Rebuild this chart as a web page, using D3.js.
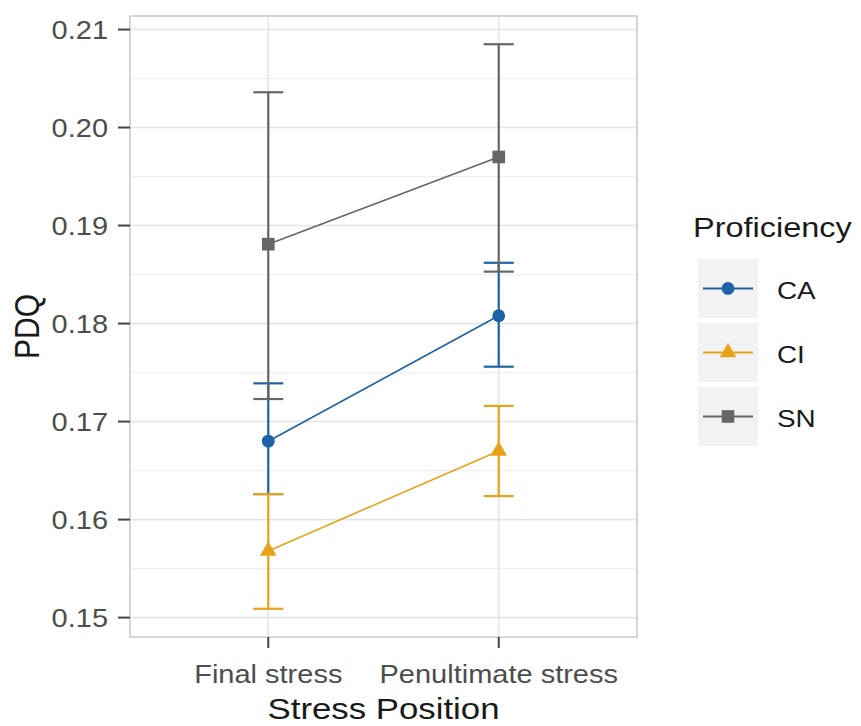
<!DOCTYPE html>
<html>
<head>
<meta charset="utf-8">
<script src="https://cdn.jsdelivr.net/npm/d3@7"></script>
<style>
  html, body { margin: 0; padding: 0; background: #ffffff; }
  svg { display: block; font-family: "Liberation Sans", Arial, sans-serif; }
</style>
</head>
<body>
<svg id="chart" width="861" height="726"></svg>
<script>
// Stress positions on the x axis
const positions = ["Final stress", "Penultimate stress"];
// Proficiency groups
const groups = ["CA", "CI", "SN"];
// Mean PDQ per group, one value per stress position
const meanCA = [0.1680, 0.1808];
const meanCI = [0.1568, 0.1670];
const meanSN = [0.1881, 0.1970];
// Lower and upper error bar ends
const lowCA = [0.1626, 0.1756];
const highCA = [0.1739, 0.1862];
const lowCI = [0.1509, 0.1624];
const highCI = [0.1626, 0.1716];
const lowSN = [0.1723, 0.1853];
const highSN = [0.2036, 0.2085];
// Y axis ticks
const yTicks = [0.15, 0.16, 0.17, 0.18, 0.19, 0.20, 0.21];

const colors = { CA: "#1f62a5", CI: "#e8a21a", SN: "#666666" };
const shapes = { CA: d3.symbolCircle, CI: d3.symbolTriangle, SN: d3.symbolSquare };
const symSize = { CA: 130, CI: 120, SN: 160 };

const series = [
  { key: "CA", mean: meanCA, low: lowCA, high: highCA },
  { key: "CI", mean: meanCI, low: lowCI, high: highCI },
  { key: "SN", mean: meanSN, low: lowSN, high: highSN }
];

const svg = d3.select("#chart");
const panel = { left: 130, top: 16, right: 637, bottom: 637 };
const SX = 1.16; // horizontal text stretch

// y domain: data range expanded by 5% on each side
const allVals = [].concat(lowCA, highCA, lowCI, highCI, lowSN, highSN);
const yMin = d3.min(allVals), yMax = d3.max(allVals);
const pad = (yMax - yMin) * 0.05;
const y = d3.scaleLinear().domain([yMin - pad, yMax + pad]).range([panel.bottom, panel.top]);
const x = d3.scalePoint().domain(positions).range([panel.left, panel.right]).padding(0.6);

function stext(parent, px, py, txt, size, anchor, fill) {
  return parent.append("text")
    .attr("transform", `translate(${px},${py}) scale(${SX},1)`)
    .attr("text-anchor", anchor)
    .attr("font-size", size)
    .attr("fill", fill)
    .text(txt);
}

// Panel background and grid
svg.append("rect")
  .attr("x", panel.left).attr("y", panel.top)
  .attr("width", panel.right - panel.left).attr("height", panel.bottom - panel.top)
  .attr("fill", "#ffffff");

const minorTicks = d3.range(yTicks.length - 1).map(i => (yTicks[i] + yTicks[i + 1]) / 2);
svg.append("g").selectAll("line").data(minorTicks).join("line")
  .attr("x1", panel.left).attr("x2", panel.right)
  .attr("y1", d => y(d)).attr("y2", d => y(d))
  .attr("stroke", "#efefef").attr("stroke-width", 1.2);
svg.append("g").selectAll("line").data(yTicks).join("line")
  .attr("x1", panel.left).attr("x2", panel.right)
  .attr("y1", d => y(d)).attr("y2", d => y(d))
  .attr("stroke", "#e4e4e4").attr("stroke-width", 1.6);
svg.append("g").selectAll("line").data(positions).join("line")
  .attr("x1", d => x(d)).attr("x2", d => x(d))
  .attr("y1", panel.top).attr("y2", panel.bottom)
  .attr("stroke", "#e4e4e4").attr("stroke-width", 1.6);

// Error bars
const capHalf = 15;
series.forEach(s => {
  const g = svg.append("g").attr("stroke", colors[s.key]).attr("stroke-width", 2.2);
  positions.forEach((p, i) => {
    const cx = x(p);
    g.append("line").attr("x1", cx).attr("x2", cx).attr("y1", y(s.low[i])).attr("y2", y(s.high[i]));
    g.append("line").attr("x1", cx - capHalf).attr("x2", cx + capHalf).attr("y1", y(s.low[i])).attr("y2", y(s.low[i]));
    g.append("line").attr("x1", cx - capHalf).attr("x2", cx + capHalf).attr("y1", y(s.high[i])).attr("y2", y(s.high[i]));
  });
});

// Connecting lines
const line = d3.line().x((d, i) => x(positions[i])).y(d => y(d));
series.forEach(s => {
  svg.append("path").datum(s.mean)
    .attr("d", line)
    .attr("fill", "none")
    .attr("stroke", colors[s.key])
    .attr("stroke-width", 1.6);
});

// Points
series.forEach(s => {
  svg.append("g").selectAll("path").data(s.mean).join("path")
    .attr("transform", (d, i) => `translate(${x(positions[i])},${y(d)})`)
    .attr("d", d3.symbol().type(shapes[s.key]).size(symSize[s.key]))
    .attr("fill", colors[s.key]);
});

// Panel border
svg.append("rect")
  .attr("x", panel.left).attr("y", panel.top)
  .attr("width", panel.right - panel.left).attr("height", panel.bottom - panel.top)
  .attr("fill", "none").attr("stroke", "#c8c8c8").attr("stroke-width", 1.5);

// Y axis
const yAxis = svg.append("g");
yTicks.forEach(t => {
  yAxis.append("line")
    .attr("x1", panel.left - 12).attr("x2", panel.left)
    .attr("y1", y(t)).attr("y2", y(t))
    .attr("stroke", "#444").attr("stroke-width", 2);
  stext(yAxis, 108, y(t) + 9, t.toFixed(2), 25, "end", "#4d4d4d");
});

// X axis
const xAxis = svg.append("g");
positions.forEach(p => {
  xAxis.append("line")
    .attr("x1", x(p)).attr("x2", x(p))
    .attr("y1", panel.bottom).attr("y2", panel.bottom + 11)
    .attr("stroke", "#444").attr("stroke-width", 2);
  stext(xAxis, x(p), 683, p, 25, "middle", "#4d4d4d");
});

// Axis titles
stext(svg, (panel.left + panel.right) / 2, 719, "Stress Position", 30, "middle", "#1a1a1a");
svg.append("text")
  .attr("transform", `translate(39,${(panel.top + panel.bottom) / 2}) scale(${SX},1) rotate(-90)`)
  .attr("text-anchor", "middle")
  .attr("font-size", 30)
  .attr("fill", "#1a1a1a")
  .text("PDQ");

// Legend
const legend = svg.append("g");
stext(legend, 693, 237, "Proficiency", 28, "start", "#1a1a1a");
const keyX = 698, keyW = 60, keyTop = 259, keyStep = 64, keyH = 59;
groups.forEach((k, i) => {
  const ky = keyTop + i * keyStep;
  const cy = ky + keyH / 2;
  legend.append("rect")
    .attr("x", keyX).attr("y", ky).attr("width", keyW).attr("height", keyH)
    .attr("fill", "#f2f2f2");
  legend.append("line")
    .attr("x1", keyX + 5).attr("x2", keyX + keyW - 5)
    .attr("y1", cy).attr("y2", cy)
    .attr("stroke", colors[k]).attr("stroke-width", 2);
  legend.append("path")
    .attr("transform", `translate(${keyX + keyW / 2},${cy})`)
    .attr("d", d3.symbol().type(shapes[k]).size(symSize[k]))
    .attr("fill", colors[k]);
  stext(legend, 777, cy + 10, k, 24, "start", "#1a1a1a");
});
</script>
</body>
</html>
